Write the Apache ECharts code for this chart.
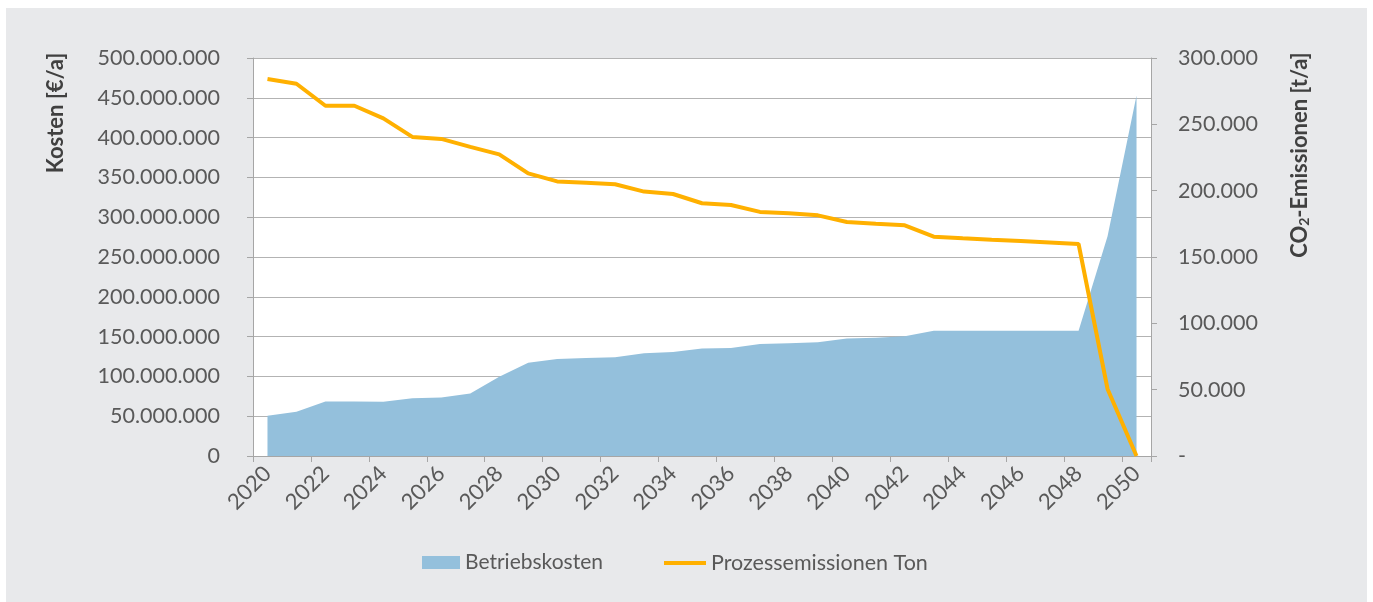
<!DOCTYPE html>
<html>
<head>
<meta charset="utf-8">
<script src="https://cdn.jsdelivr.net/npm/echarts@6/dist/echarts.min.js"></script>
<style>
html,body{margin:0;padding:0;background:#ffffff;}
#chart{width:1373px;height:602px;}
</style>
</head>
<body>
<div id="chart"></div>
<script>
const years = ['2020','2021','2022','2023','2024','2025','2026','2027','2028','2029','2030','2031','2032','2033','2034','2035','2036','2037','2038','2039','2040','2041','2042','2043','2044','2045','2046','2047','2048','2049','2050'];
const betriebskosten = [50500000,55500000,68500000,68500000,68000000,72500000,73500000,78500000,99500000,117000000,122000000,123000000,124000000,129000000,130500000,135000000,135700000,140700000,141600000,142900000,147500000,148700000,150500000,157500000,157500000,157500000,157500000,157500000,157500000,276000000,453000000];
const prozessemissionen = [284200,280600,264000,264000,254500,240500,239000,233000,227400,213000,207000,206000,204800,199300,197500,190500,189200,184000,183000,181400,176400,175100,173900,165300,164100,163000,162000,161000,159800,50500,0];
const leftTicks = {min:0, max:500000000, interval:50000000};
const rightTicks = {min:0, max:300000, interval:50000};

const FONT = 'Lato';
const TXT = '#595959';
const AX = '#a6a6a6';
function fmt(v){
  if (v === 0) return '0';
  return String(Math.round(v)).replace(/\B(?=(\d{3})+(?!\d))/g, '.');
}
const chart = echarts.init(document.getElementById('chart'), null, {renderer:'canvas'});
chart.setOption({
  backgroundColor: '#ffffff',
  animation: false,
  textStyle: {fontFamily: FONT},
  graphic: [
    {type:'rect', z:-10, silent:true, shape:{x:6,y:8,width:1361,height:594}, style:{fill:'#e8e9eb'}},
    {type:'text', z:10, x:56, y:113, rotation:Math.PI/2, style:{text:'Kosten [€/a]', fill:'#404040', font:'bold 22px Lato', align:'center', verticalAlign:'middle'}},
    {type:'text', z:10, x:1300, y:155, rotation:Math.PI/2, style:{
      text:'{a|CO}{s|2}{a|-Emissionen [t/a]}', align:'center', verticalAlign:'middle',
      rich:{a:{fill:'#404040', font:'bold 22px Lato'}, s:{fill:'#404040', font:'bold 14px Lato', padding:[9,0,0,0]}}
    }}
  ],
  grid: {left:253, right:222, top:58, bottom:146, show:true, backgroundColor:'#ffffff', borderWidth:0, containLabel:false},
  legend: [
    {
      left: 422, top: 552, padding: 0, itemWidth: 38, itemHeight: 13, itemGap: 6,
      textStyle: {fontFamily: FONT, fontSize: 21, color: TXT},
      data: [{name:'Betriebskosten', icon:'rect', itemStyle:{color:'#94c0dc'}}]
    },
    {
      left: 664, top: 552, padding: 0, itemWidth: 42, itemHeight: 4,
      textStyle: {fontFamily: FONT, fontSize: 21.5, color: TXT},
      data: [{name:'Prozessemissionen Ton', icon:'rect', itemStyle:{color:'#ffb000'}}]
    }
  ],
  xAxis: {
    type:'category', data: years, boundaryGap:true,
    axisLine:{show:true, lineStyle:{color:AX, width:1}},
    axisTick:{show:true, length:6, lineStyle:{color:AX}},
    axisLabel:{interval:1, rotate:45, fontFamily:FONT, fontSize:22, color:TXT, margin:14}
  },
  yAxis: [
    {
      type:'value', position:'left', min:leftTicks.min, max:leftTicks.max, interval:leftTicks.interval,
      axisLine:{show:true, lineStyle:{color:AX}},
      axisTick:{show:true, length:6, lineStyle:{color:AX}},
      splitLine:{show:true, lineStyle:{color:'#b3b3b3', width:1}},
      axisLabel:{fontFamily:FONT, fontSize:21.5, color:TXT, margin:33, formatter: fmt}
    },
    {
      type:'value', position:'right', min:rightTicks.min, max:rightTicks.max, interval:rightTicks.interval,
      axisLine:{show:true, lineStyle:{color:AX}},
      axisTick:{show:true, length:6, lineStyle:{color:AX}},
      splitLine:{show:false},
      axisLabel:{fontFamily:FONT, fontSize:21.5, color:TXT, margin:27, formatter: v => v === 0 ? '-' : fmt(v)}
    }
  ],
  series: [
    {
      name:'Betriebskosten', type:'line', yAxisIndex:0, data: betriebskosten,
      symbol:'none', lineStyle:{width:0, color:'#94c0dc'}, itemStyle:{color:'#94c0dc'},
      areaStyle:{color:'#94c0dc', opacity:1}, z:2
    },
    {
      name:'Prozessemissionen Ton', type:'line', yAxisIndex:1, data: prozessemissionen,
      symbol:'none', lineStyle:{width:4, color:'#ffb000'}, itemStyle:{color:'#ffb000'}, z:3
    }
  ]
});
</script>
</body>
</html>
